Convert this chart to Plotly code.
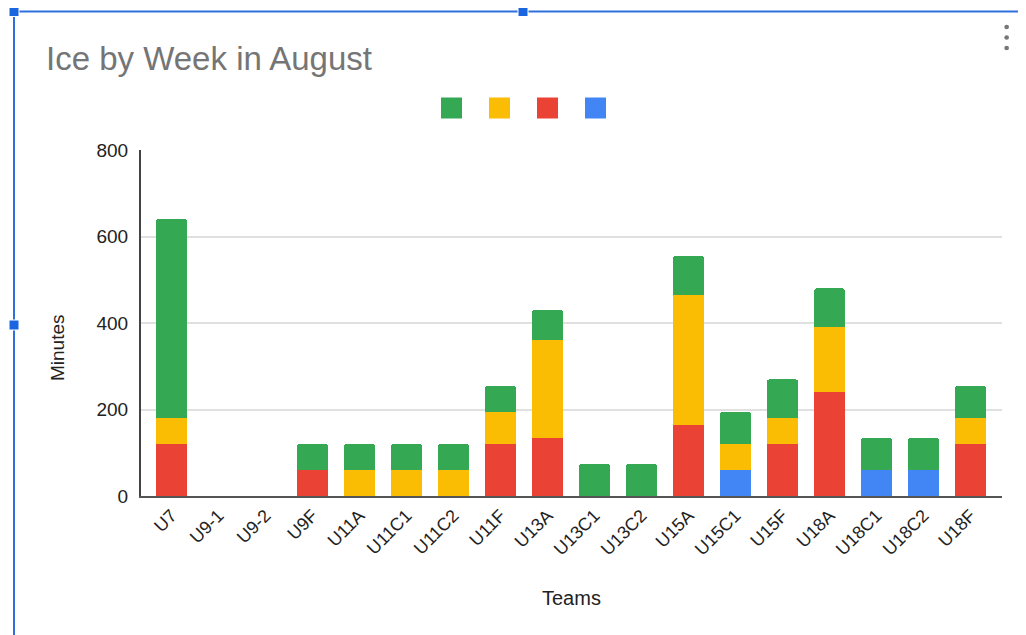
import plotly.graph_objects as go

teams = ["U7", "U9-1", "U9-2", "U9F", "U11A", "U11C1", "U11C2", "U11F", "U13A",
         "U13C1", "U13C2", "U15A", "U15C1", "U15F", "U18A", "U18C1", "U18C2", "U18F"]
blue_vals = [0, 0, 0, 0, 0, 0, 0, 0, 0, 0, 0, 0, 60, 0, 0, 60, 60, 0]
red_vals = [120, 0, 0, 60, 0, 0, 0, 120, 135, 0, 0, 165, 0, 120, 240, 0, 0, 120]
yellow_vals = [60, 0, 0, 0, 60, 60, 60, 75, 225, 0, 0, 300, 60, 60, 150, 0, 0, 60]
green_vals = [460, 0, 0, 60, 60, 60, 60, 60, 70, 75, 75, 90, 75, 90, 90, 75, 75, 75]
y_ticks = [0, 200, 400, 600, 800]

GREEN, YELLOW, RED, BLUE = "#34A853", "#FBBC04", "#EA4335", "#4285F4"

fig = go.Figure()
for vals, col in [(blue_vals, BLUE), (red_vals, RED), (yellow_vals, YELLOW), (green_vals, GREEN)]:
    fig.add_trace(go.Bar(x=teams, y=vals, marker=dict(color=col, line=dict(width=0)),
                         showlegend=False))
# legend swatches (no series names)
for col in [GREEN, YELLOW, RED, BLUE]:
    fig.add_trace(go.Scatter(x=[None], y=[None], mode="markers", name="",
                             marker=dict(symbol="square", size=16, color=col,
                                         line=dict(color=col, width=5))))

OFF = 8  # page body margin
W, H = 1026 - OFF, 635 - OFF
# plot area in page pixels
L, R, T, B = 141, 1002, 150, 496
def px(x):
    return (x - L) / (R - L)
def py(y):
    return (B - y) / (B - T)

shapes = []
# selection border (screenshot UI)
shapes.append(dict(type="line", xref="paper", yref="paper", x0=px(14), x1=px(1030),
                   y0=py(11.5), y1=py(11.5), line=dict(color="#2f6fde", width=2)))
shapes.append(dict(type="line", xref="paper", yref="paper", x0=px(14), x1=px(14),
                   y0=py(11.5), y1=py(640), line=dict(color="#2f6fde", width=2)))
for hx, hy in [(14, 11.5), (523, 11.5), (14, 325), (1026, 11.5)]:
    shapes.append(dict(type="rect", xref="paper", yref="paper", x0=px(hx - 5), x1=px(hx + 5),
                       y0=py(hy + 5), y1=py(hy - 5), fillcolor="#1a66e0",
                       line=dict(color="#ffffff", width=1)))
# menu dots
for dy in [27, 37.5, 48]:
    shapes.append(dict(type="circle", xref="paper", yref="paper", x0=px(1004.3), x1=px(1009),
                       y0=py(dy + 2.3), y1=py(dy - 2.3), fillcolor="#777777",
                       line=dict(width=0)))

annotations = [
    dict(text="Minutes", xref="paper", yref="paper", x=px(57), y=py(348),
         xanchor="center", yanchor="middle", textangle=-90, showarrow=False,
         font=dict(size=19, color="#222222")),
    dict(text="Teams", xref="paper", yref="paper", x=px(571.5), y=py(598),
         xanchor="center", yanchor="middle", showarrow=False,
         font=dict(size=20, color="#222222")),
]

fig.update_layout(
    width=W, height=H,
    margin=dict(l=L - OFF, r=1026 - R, t=T - OFF, b=635 - B),
    paper_bgcolor="white", plot_bgcolor="white",
    barmode="stack", bargap=0.34, barcornerradius=3,
    font=dict(family="Liberation Sans, Arial, sans-serif", color="#222222"),
    title=dict(text="Ice by Week in August", xref="container", yref="container",
               x=(46 - OFF) / W, xanchor="left", y=1 - (58 - OFF) / H, yanchor="middle",
               font=dict(size=33, color="#757575")),
    legend=dict(orientation="h", xref="container", yref="container", traceorder="normal",
                x=(527.5 - OFF) / W, xanchor="center", y=1 - (108.5 - OFF) / H, yanchor="middle",
                font=dict(size=14), itemwidth=30, entrywidth=3, entrywidthmode="pixels"),
    shapes=shapes,
    annotations=annotations,
    xaxis=dict(type="category", range=[-0.649, 17.67], tickangle=-45,
               tickfont=dict(size=18, color="#222222"), showgrid=False,
               showline=True, linecolor="#555555", linewidth=2, ticks=""),
    yaxis=dict(range=[0, 800], tickvals=y_ticks, ticktext=[str(v) for v in y_ticks],
               tickfont=dict(size=19, color="#222222"), gridcolor="#e0e0e0", gridwidth=2,
               showline=True, linecolor="#444444", linewidth=2, zeroline=False, ticks="",
               ticklabelstandoff=7),
)

fig.write_html("out.html")
